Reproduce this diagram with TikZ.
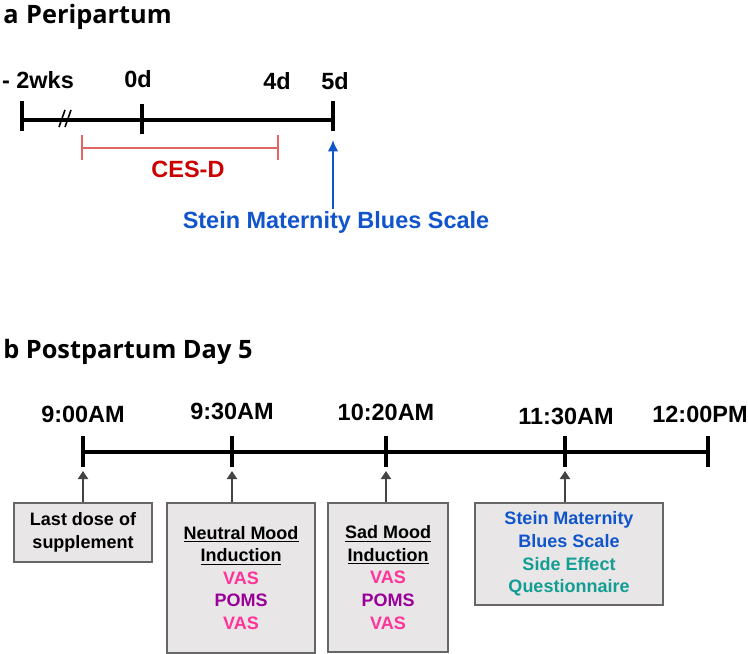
\documentclass[tikz,border=0pt]{standalone}
\usepackage{fontspec}
\setmainfont{Liberation Sans}
\newfontfamily\headfont{Open Sans}
\usetikzlibrary{arrows.meta}
\definecolor{cesred}{HTML}{E06666}
\definecolor{cesdark}{HTML}{CC0000}
\definecolor{steinblue}{HTML}{1155CC}
\definecolor{vaspink}{HTML}{FF3399}
\definecolor{pomspurple}{HTML}{990099}
\definecolor{sideteal}{HTML}{139E94}
\definecolor{boxfill}{HTML}{E8E6E6}
\definecolor{boxline}{HTML}{666666}
\definecolor{arrowgray}{HTML}{434343}
\tikzset{
  heading/.style={anchor=west, inner sep=0pt, font=\headfont\bfseries\fontsize{19}{21}\selectfont},
  timelbl/.style={inner sep=1pt, font=\bfseries\fontsize{17.6}{20}\selectfont},
  axisa/.style={line width=3pt},
  axisb/.style={line width=3.6pt},
  tickb/.style={line width=2.3pt},
  cesbar/.style={cesred, line width=2pt},
  infobox/.style={draw=boxline, fill=boxfill, line width=1.6pt, align=center,
    inner sep=0pt, font=\bfseries\fontsize{13.5}{16.9}\selectfont},
  uparrow/.style={arrowgray, line width=2.2pt, -{Triangle[length=6pt,width=7.5pt]}},
  bluearrow/.style={steinblue, line width=1.5pt, -{Latex[length=8.5pt,width=8pt]}},
}
\def\wk{\textcolor{vaspink}}
\begin{document}
\begin{tikzpicture}[x=0.75pt,y=0.75pt]
  \useasboundingbox (0,0) rectangle (748,-653);
  % a: peripartum
  \begin{scope}
    \node[heading] (titlea) at (3,-17) {a\hspace{0.3em}Peripartum};
    \coordinate (m2w) at (22,-120);
    \coordinate (d0) at (142,-120);
    \coordinate (d5) at (333,-120);
    \draw[axisa] (m2w) -- (d5);
    \draw[axisa] (m2w) ++(0,19) -- ++(0,-30);
    \draw[axisa] (d0) ++(0,16) -- ++(0,-30);
    \draw[axisa] (d5) ++(0,19) -- ++(0,-30);
    \draw[line width=1.2pt] (59,-127) -- (65,-110);
    \draw[line width=1.2pt] (65,-127) -- (71,-110);
    \node[timelbl] (l2w) at (38,-80) {- 2wks};
    \node[timelbl] (l0d) at (138,-79) {0d};
    \node[timelbl] (l4d) at (277,-81) {4d};
    \node[timelbl] (l5d) at (335,-81) {5d};
    \coordinate (cesL) at (82,-148);
    \coordinate (cesR) at (278,-148);
    \draw[cesbar] (cesL) -- (cesR);
    \draw[cesbar] (cesL) ++(0,13) -- ++(0,-25);
    \draw[cesbar] (cesR) ++(0,13) -- ++(0,-25);
    \node[timelbl, text=cesdark] (cesd) at (188,-169) {CES-D};
    \node[timelbl, text=steinblue] (smbs) at (336,-222) {Stein Maternity Blues Scale};
    \coordinate (smbstip) at (333,-140);
    \draw[bluearrow] (smbs.north -| smbstip) -- (smbstip);
  \end{scope}
  % b: postpartum day 5
  \begin{scope}
    \node[heading] (titleb) at (3,-352) {b Postpartum Day 5};
    \coordinate (t900) at (83,-452);
    \coordinate (t930) at (232,-452);
    \coordinate (t1020) at (386,-452);
    \coordinate (t1130) at (565,-452);
    \coordinate (t1200) at (708,-452);
    \draw[axisb] (t900) -- (t1200);
    \foreach \t in {t900,t930,t1020,t1130,t1200}
      \draw[tickb] (\t) ++(0,16) -- ++(0,-31);
    \node[timelbl] (l900) at (83,-414) {9:00AM};
    \node[timelbl] (l930) at (232,-411) {9:30AM};
    \node[timelbl] (l1020) at (386,-412) {10:20AM};
    \node[timelbl] (l1130) at (566,-416) {11:30AM};
    \node[timelbl] (l1200) at (700,-414) {12:00PM};
    \node[infobox, minimum width=103.5pt, minimum height=44.25pt] (lastdose)
      at (83,-532.5) {Last dose of\\supplement};
    \node[infobox, minimum width=111pt, minimum height=112.5pt] (neutral)
      at (241,-578) {\underline{Neutral Mood}\\\underline{Induction}\\
      \wk{VAS}\\\textcolor{pomspurple}{POMS}\\\wk{VAS}};
    \node[infobox, minimum width=90pt, minimum height=111.75pt] (sad)
      at (388,-577.5) {\underline{Sad Mood}\\\underline{Induction}\\
      \wk{VAS}\\\textcolor{pomspurple}{POMS}\\\wk{VAS}};
    \node[infobox, minimum width=141pt, minimum height=76.5pt] (stein)
      at (569,-554) {\textcolor{steinblue}{Stein Maternity}\\\textcolor{steinblue}{Blues Scale}\\
      \textcolor{sideteal}{Side Effect}\\\textcolor{sideteal}{Questionnaire}};
    \coordinate (p900) at (83,-471);
    \coordinate (p930) at (232,-471);
    \coordinate (p1020) at (386,-471);
    \coordinate (p1130) at (565,-471);
    \draw[uparrow] (lastdose.north -| p900) -- (p900);
    \draw[uparrow] (neutral.north -| p930) -- (p930);
    \draw[uparrow] (sad.north -| p1020) -- (p1020);
    \draw[uparrow] (stein.north -| p1130) -- (p1130);
  \end{scope}
\end{tikzpicture}
\end{document}
